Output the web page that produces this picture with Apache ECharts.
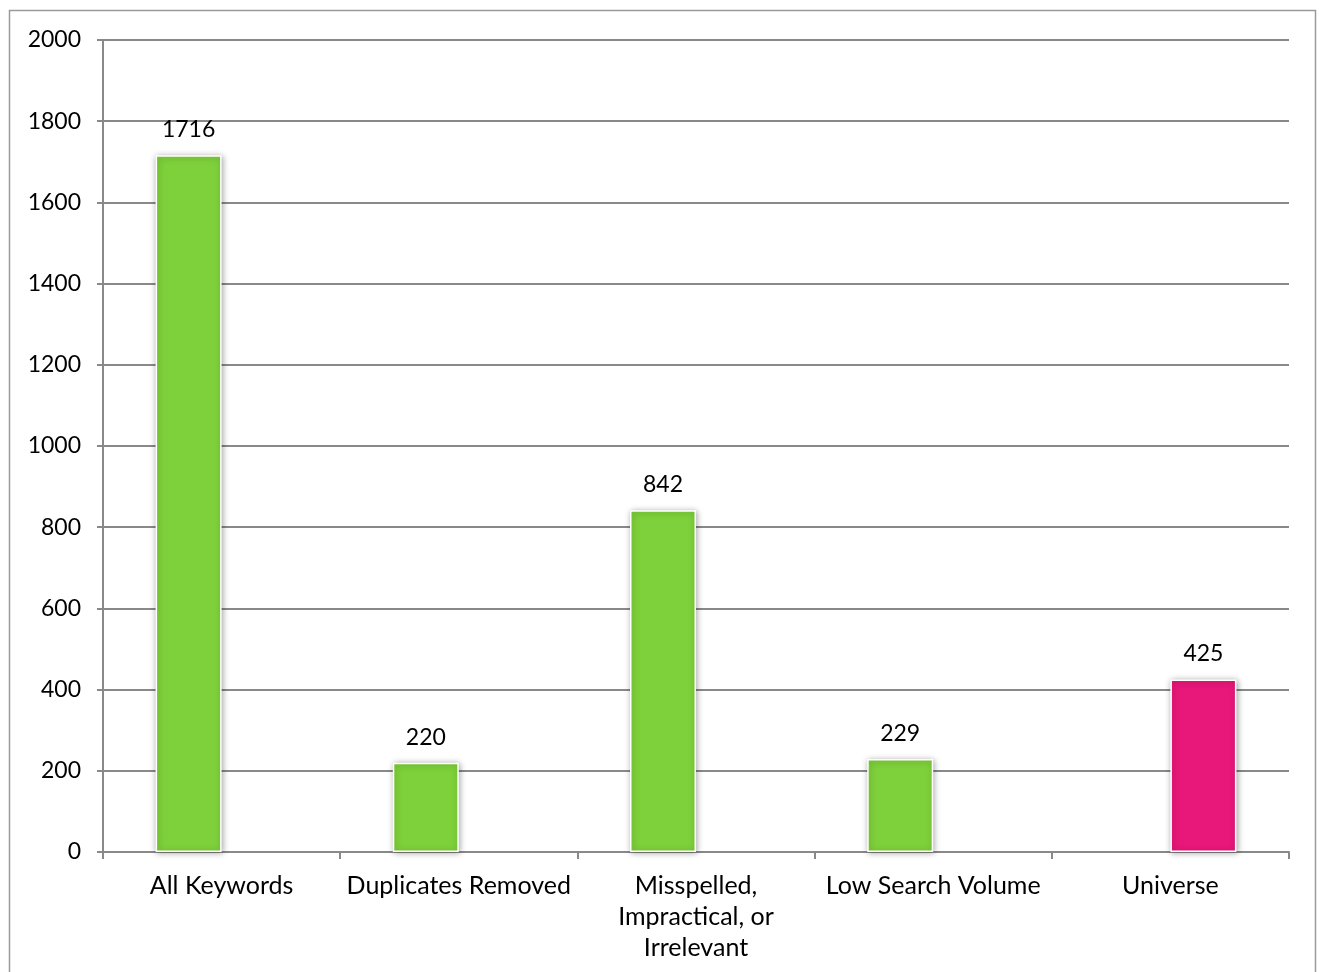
<!DOCTYPE html>
<html><head><meta charset="utf-8">
<script src="https://cdn.jsdelivr.net/npm/echarts@6/dist/echarts.min.js"></script>
<style>html,body{margin:0;padding:0;background:#fff}#c{width:1319px;height:972px}</style>
</head><body><div id="c"></div>
<script>
const categories = ['All Keywords', 'Duplicates Removed', 'Misspelled,\nImpractical, or\nIrrelevant', 'Low Search Volume', 'Universe'];
const stepValues = [1716, 220, 842, 229, '-'];
const universeValues = ['-', '-', '-', '-', 425];
const yTicks = { min: 0, max: 2000, interval: 200 };

const chart = echarts.init(document.getElementById('c'));
const font = 'Lato, "Open Sans", sans-serif';
const barStyle = (color) => ({
  color: color, borderColor: '#ffffff', borderWidth: 1.5,
  shadowColor: 'rgba(0,0,0,0.35)', shadowBlur: 6, shadowOffsetX: 1, shadowOffsetY: 1
});
const lbl = { show: true, position: 'top', distance: 14, color: '#000', fontFamily: font, fontSize: 23 };
chart.setOption({
  animation: false,
  backgroundColor: '#fff',
  graphic: [{ type: 'rect', shape: { x: 9.5, y: 10.5, width: 1306, height: 990 }, style: { fill: 'none', stroke: '#9a9a9a', lineWidth: 1.5 }, z: -1 }],
  grid: { left: 103, right: 30, top: 40, bottom: 120 },
  xAxis: {
    type: 'category', data: categories,
    axisLine: { lineStyle: { color: '#898989', width: 2 } },
    axisTick: { show: true, length: 7, lineStyle: { color: '#898989', width: 2 } },
    axisLabel: { color: '#000', fontFamily: font, fontSize: 25, margin: 18, lineHeight: 31, interval: 0 }
  },
  yAxis: {
    type: 'value', min: yTicks.min, max: yTicks.max, interval: yTicks.interval,
    axisLine: { show: true, lineStyle: { color: '#898989', width: 2 } },
    axisTick: { show: true, length: 6, lineStyle: { color: '#898989', width: 2 } },
    splitLine: { lineStyle: { color: '#898989', width: 2 } },
    axisLabel: { color: '#000', fontFamily: font, fontSize: 23, margin: 22, formatter: (v) => String(v) }
  },
  series: [
    { type: 'bar', data: stepValues, barWidth: 66, barGap: '0%', itemStyle: barStyle('#7ed13a'), label: lbl },
    { type: 'bar', data: universeValues, barWidth: 66, barGap: '0%', itemStyle: barStyle('#e8177a'), label: lbl }
  ]
});
</script></body></html>
